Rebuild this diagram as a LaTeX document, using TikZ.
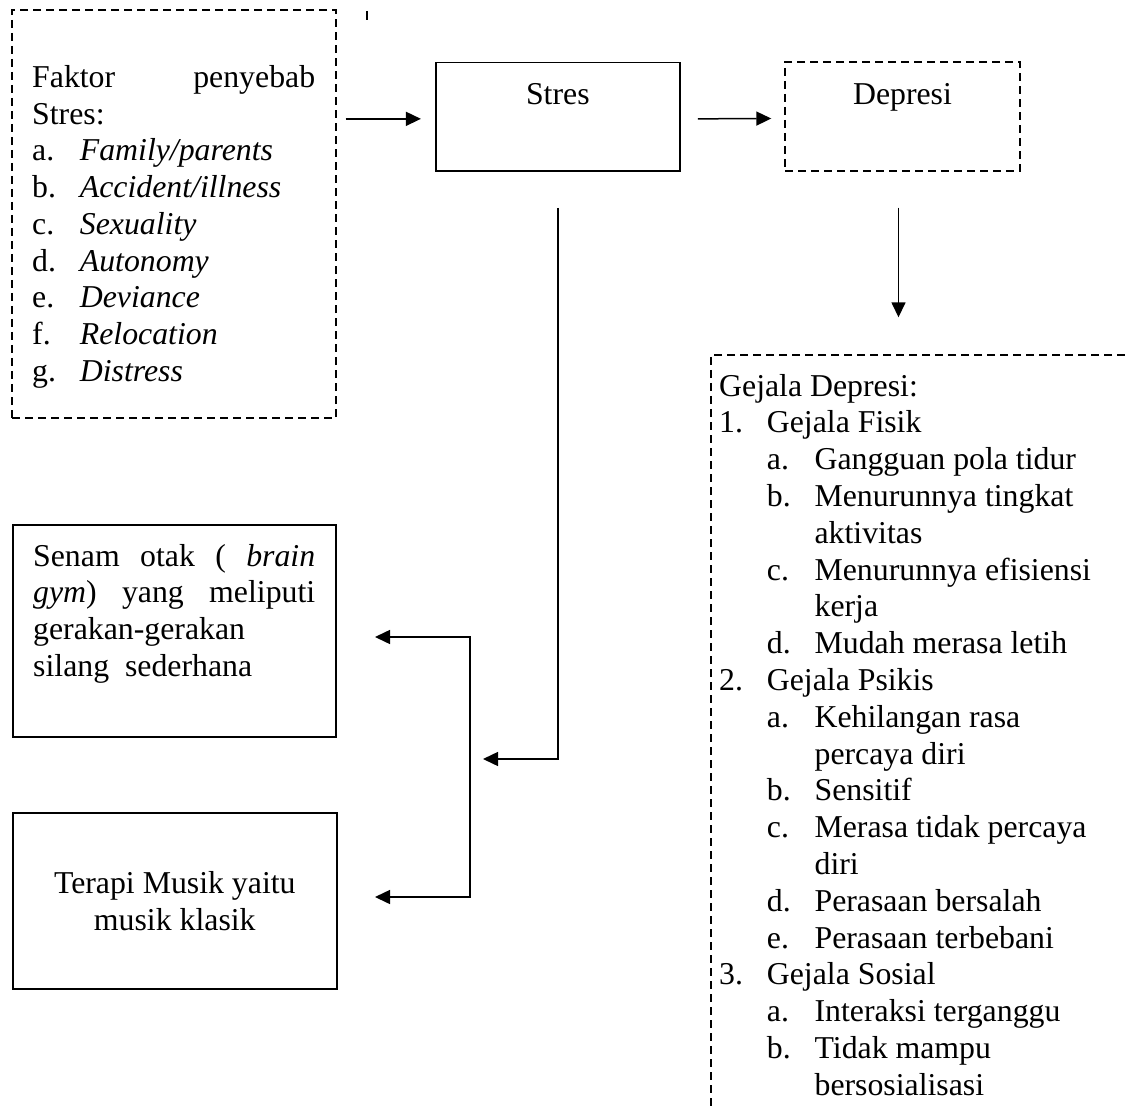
\documentclass[tikz,border=0pt]{standalone}
\usepackage{fontspec}
\setmainfont{Liberation Serif}
\usetikzlibrary{arrows.meta}
\newcommand\Lbl[1]{\makebox[47.7pt][l]{#1}}
\begin{document}
\begin{tikzpicture}[x=1pt,y=1pt,
  txt/.style={inner sep=0pt, anchor=base west, font=\fontsize{31.8}{36.75}\selectfont},
  ctxt/.style={txt, anchor=base},
  solidbox/.style={draw, line width=1.6pt, inner sep=0pt},
  dashbox/.style={draw, line width=1.4pt, dash pattern=on 8pt off 5pt, inner sep=0pt},
  arr/.style={line width=1.5pt, -{Triangle[length=15pt,width=14pt]}},
  darr/.style={line width=1.5pt, {Triangle[length=15pt,width=14pt]}-{Triangle[length=15pt,width=14pt]}},
]
\useasboundingbox (0,0) rectangle (1125,-1110);
\clip (0,0) rectangle (1125,-1110);

% boxes
\node[dashbox, minimum width=324pt, minimum height=408pt] (lbox) at (174,-214) {};
\node[solidbox, minimum width=244.3pt, minimum height=108.3pt] (stres) at (557.85,-116.85) {};
\node[dashbox, minimum width=235pt, minimum height=109pt] (dep) at (902.5,-116.5) {};
\node[solidbox, minimum width=323.3pt, minimum height=212pt] (senam) at (174.35,-631) {};
\node[solidbox, minimum width=324.3pt, minimum height=176pt] (terapi) at (174.85,-901) {};
\node[dashbox, minimum width=469pt, minimum height=815pt] (gej) at (945.5,-762.5) {};

% stray tick
\draw[line width=1.5pt] (367,-11) -- (367,-20);

% box titles
\node[ctxt] (tStres) at (557.85,-104.3) {Stres};
\node[ctxt] (tDep) at (902.5,-104.3) {Depresi};

% left box text
\node[txt] (f0) at (32,-87.3) {\makebox[283pt][s]{Faktor\hfill penyebab}};
\node[txt] (f1) at (32,-124.05) {Stres:};
\node[txt] (f2) at (32,-160.8) {\Lbl{a.}\textit{Family/parents}};
\node[txt] (f3) at (32,-197.55) {\Lbl{b.}\textit{Accident/illness}};
\node[txt] (f4) at (32,-234.3) {\Lbl{c.}\textit{Sexuality}};
\node[txt] (f5) at (32,-271.05) {\Lbl{d.}\textit{Autonomy}};
\node[txt] (f6) at (32,-307.8) {\Lbl{e.}\textit{Deviance}};
\node[txt] (f7) at (32,-344.55) {\Lbl{f.}\textit{Relocation}};
\node[txt] (f8) at (32,-381.3) {\Lbl{g.}\textit{Distress}};

% senam box text
\node[txt] (s0) at (33,-566) {\makebox[282pt][s]{Senam\hfill otak\hfill (\hfill\textit{brain}}};
\node[txt] (s1) at (33,-602.7) {\makebox[282pt][s]{\textit{gym})\hfill yang\hfill meliputi}};
\node[txt] (s2) at (33,-639.4) {gerakan-gerakan};
\node[txt] (s3) at (33,-676.1) {silang\ \ sederhana};

% terapi box text
\node[ctxt] (m0) at (174.8,-893) {Terapi Musik yaitu};
\node[ctxt] (m1) at (174.8,-930) {musik klasik};

% gejala box text
\node[txt] (g0) at (719,-396) {Gejala Depresi:};
\node[txt] (g1) at (719,-432.8) {\Lbl{1.}Gejala Fisik};
\node[txt] (g2) at (766.7,-469.6) {\Lbl{a.}Gangguan pola tidur};
\node[txt] (g3) at (766.7,-506.4) {\Lbl{b.}Menurunnya tingkat};
\node[txt] (g4) at (814.4,-543.2) {aktivitas};
\node[txt] (g5) at (766.7,-580) {\Lbl{c.}Menurunnya efisiensi};
\node[txt] (g6) at (814.4,-616.8) {kerja};
\node[txt] (g7) at (766.7,-653.6) {\Lbl{d.}Mudah merasa letih};
\node[txt] (g8) at (719,-690.4) {\Lbl{2.}Gejala Psikis};
\node[txt] (g9) at (766.7,-727.2) {\Lbl{a.}Kehilangan rasa};
\node[txt] (g10) at (814.4,-764) {percaya diri};
\node[txt] (g11) at (766.7,-800.8) {\Lbl{b.}Sensitif};
\node[txt] (g12) at (766.7,-837.6) {\Lbl{c.}Merasa tidak percaya};
\node[txt] (g13) at (814.4,-874.4) {diri};
\node[txt] (g14) at (766.7,-911.2) {\Lbl{d.}Perasaan bersalah};
\node[txt] (g15) at (766.7,-948) {\Lbl{e.}Perasaan terbebani};
\node[txt] (g16) at (719,-984.8) {\Lbl{3.}Gejala Sosial};
\node[txt] (g17) at (766.7,-1021.6) {\Lbl{a.}Interaksi terganggu};
\node[txt] (g18) at (766.7,-1058.4) {\Lbl{b.}Tidak mampu};
\node[txt] (g19) at (814.4,-1095.2) {bersosialisasi};

% connectors
\draw[arr] ([xshift=9pt,yshift=-2pt]lbox.east |- stres.west) -- ([xshift=-14pt,yshift=-2pt]stres.west);
\draw[arr] ([xshift=17pt,yshift=-2pt]stres.east) -- ([xshift=-13pt,yshift=-2pt]dep.west);
\draw[arr] ([xshift=-4pt,yshift=-36pt]dep.south) -- ([xshift=-4pt,yshift=37pt]dep.south |- gej.north);
\coordinate (tipS) at (483,-759);
\draw[arr] ([yshift=-36pt]stres.south) |- (tipS);
\coordinate (tipA) at (375,-637);
\coordinate (tipB) at (375,-897);
\draw[darr] (tipA) -- (470,-637) -- (470,-897) -- (tipB);
\end{tikzpicture}
\end{document}
